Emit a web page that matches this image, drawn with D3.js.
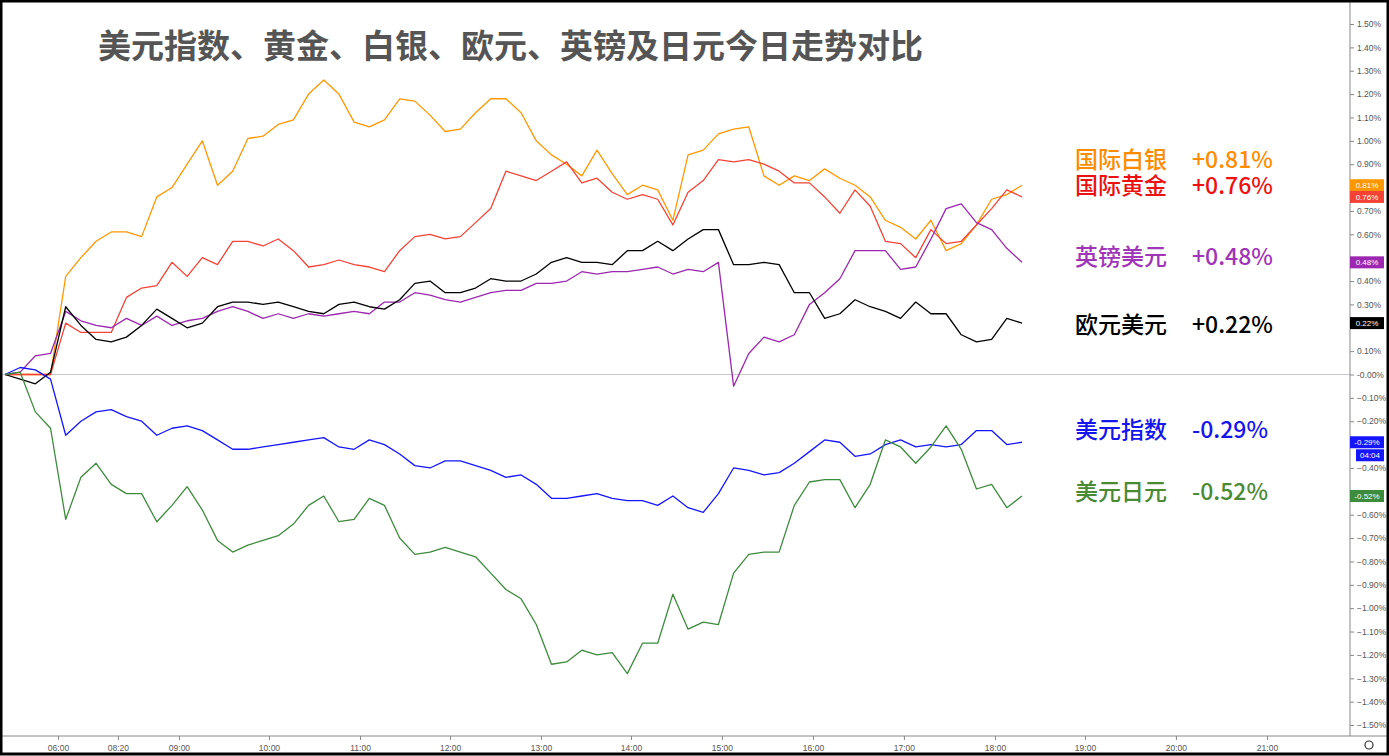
<!DOCTYPE html>
<html><head><meta charset="utf-8">
<script src="https://cdn.jsdelivr.net/npm/d3@7/dist/d3.min.js"></script>
<style>body{margin:0;background:#fff}svg{display:block}</style></head>
<body><svg id="c" width="1389" height="756"></svg>
<script>
const silver=[0,0,0,0,0.42,0.50,0.57,0.61,0.61,0.59,0.76,0.80,0.90,1.00,0.81,0.87,1.01,1.02,1.07,1.09,1.20,1.26,1.20,1.08,1.06,1.09,1.18,1.17,1.11,1.04,1.05,1.12,1.18,1.18,1.12,1.00,0.94,0.90,0.85,0.96,0.86,0.77,0.81,0.79,0.66,0.94,0.96,1.03,1.05,1.06,0.85,0.81,0.85,0.83,0.88,0.84,0.81,0.76,0.66,0.63,0.58,0.66,0.53,0.56,0.64,0.75,0.77,0.81];
const gold=[0,0,0,0,0.22,0.18,0.18,0.18,0.33,0.37,0.38,0.48,0.42,0.50,0.47,0.57,0.57,0.55,0.58,0.53,0.46,0.47,0.49,0.47,0.46,0.44,0.53,0.59,0.60,0.58,0.59,0.65,0.71,0.87,0.85,0.83,0.87,0.91,0.82,0.84,0.78,0.75,0.77,0.75,0.64,0.78,0.83,0.92,0.91,0.92,0.90,0.87,0.82,0.82,0.76,0.69,0.79,0.72,0.57,0.56,0.50,0.62,0.56,0.57,0.64,0.71,0.79,0.76];
const gbp=[0,0.01,0.08,0.09,0.27,0.23,0.21,0.20,0.24,0.21,0.25,0.21,0.23,0.24,0.27,0.29,0.27,0.24,0.26,0.24,0.26,0.25,0.26,0.27,0.26,0.31,0.31,0.35,0.34,0.32,0.31,0.33,0.35,0.36,0.36,0.39,0.39,0.40,0.44,0.43,0.44,0.44,0.45,0.46,0.43,0.45,0.44,0.48,-0.05,0.09,0.16,0.14,0.17,0.30,0.35,0.41,0.53,0.53,0.53,0.45,0.46,0.58,0.71,0.73,0.65,0.62,0.54,0.48];
const eur=[0,-0.02,-0.04,0.01,0.29,0.21,0.15,0.14,0.16,0.21,0.28,0.24,0.20,0.22,0.29,0.31,0.31,0.30,0.31,0.29,0.27,0.26,0.30,0.31,0.29,0.28,0.32,0.39,0.40,0.35,0.35,0.37,0.41,0.40,0.40,0.43,0.48,0.50,0.48,0.48,0.47,0.53,0.53,0.57,0.53,0.58,0.62,0.62,0.47,0.47,0.48,0.47,0.35,0.35,0.24,0.26,0.32,0.29,0.27,0.24,0.31,0.26,0.26,0.17,0.14,0.15,0.24,0.22];
const dxy=[0,0.03,0.02,-0.02,-0.26,-0.20,-0.16,-0.15,-0.18,-0.20,-0.26,-0.23,-0.22,-0.24,-0.28,-0.32,-0.32,-0.31,-0.30,-0.29,-0.28,-0.27,-0.31,-0.32,-0.28,-0.30,-0.34,-0.39,-0.40,-0.37,-0.37,-0.39,-0.41,-0.44,-0.43,-0.47,-0.53,-0.53,-0.52,-0.51,-0.53,-0.54,-0.54,-0.56,-0.52,-0.57,-0.59,-0.51,-0.40,-0.41,-0.43,-0.42,-0.38,-0.33,-0.28,-0.29,-0.35,-0.34,-0.30,-0.28,-0.31,-0.30,-0.31,-0.30,-0.24,-0.24,-0.30,-0.29];
const jpy=[0,0.01,-0.16,-0.23,-0.62,-0.44,-0.38,-0.47,-0.51,-0.51,-0.63,-0.56,-0.48,-0.58,-0.71,-0.76,-0.73,-0.71,-0.69,-0.64,-0.56,-0.52,-0.63,-0.62,-0.53,-0.56,-0.70,-0.77,-0.76,-0.74,-0.76,-0.78,-0.85,-0.92,-0.96,-1.07,-1.24,-1.23,-1.18,-1.20,-1.19,-1.28,-1.15,-1.15,-0.94,-1.09,-1.06,-1.07,-0.85,-0.77,-0.76,-0.76,-0.56,-0.46,-0.45,-0.45,-0.57,-0.47,-0.28,-0.31,-0.38,-0.31,-0.22,-0.32,-0.49,-0.47,-0.57,-0.52];
const timeLabels=["06:00","08:20","09:00","10:00","11:00","12:00","13:00","14:00","15:00","16:00","17:00","18:00","19:00","20:00","21:00"];
const timePos=[3.49,7.44,11.46,17.39,23.39,29.32,35.31,41.24,47.23,53.23,59.22,65.22,71.15,77.14,83.14];
const seriesNames=["国际白银","国际黄金","英镑美元","欧元美元","美元指数","美元日元"];
const seriesColors=["#ff9800","#f44336","#9c27b0","#000000","#1515ff","#3d8b3d"];
const labelColors=["#ff8c00","#ee1111","#a035b8","#000000","#1515ee","#4a8a35"];
const labelY=[162,188,259,327,432,494];
const seriesData=[silver,gold,gbp,eur,dxy,jpy];
const title="美元指数、黄金、白银、欧元、英镑及日元今日走势对比";

const svg=d3.select("#c");
const W=1389,H=756,plotR=1350,plotB=736;
const x=d3.scaleLinear().domain([0,67]).range([5,1022]);
const y=d3.scaleLinear().domain([-1.5,1.5]).range([725,24]);
const font="'Noto Sans CJK SC','Noto Sans',sans-serif";

svg.append("line").attr("x1",0).attr("x2",plotR).attr("y1",y(0)).attr("y2",y(0)).attr("stroke","#c8c8d0").attr("stroke-width",1);

const lastVals=seriesData.map(s=>s[s.length-1]);
const tagYs=lastVals.map(v=>y(v)).concat([y(dxy[dxy.length-1])+13]);
const ticks=d3.range(-15,16).map(d=>d/10);
const ya=d3.axisRight(y).tickValues(ticks).tickSize(4).tickFormat(d=>(Math.abs(d)<1e-9?"-0.00":d3.format(".2f")(d))+"%");
const gy=svg.append("g").attr("transform",`translate(${plotR},0)`).call(ya);
gy.select(".domain").attr("d",`M0,0V${plotB}`).attr("stroke","#888");
gy.selectAll("line").attr("stroke","#888");
gy.selectAll("text").attr("fill","#555").attr("font-size",8.5).attr("font-family","'Liberation Sans',sans-serif").attr("x",7)
  .style("display",d=>tagYs.some(t=>Math.abs(t-y(d))<11)?"none":null);

const xa=d3.axisBottom(x).tickValues(timePos).tickSize(4).tickFormat((d,i)=>timeLabels[i]);
const gx=svg.append("g").attr("transform",`translate(0,${plotB})`).call(xa);
gx.select(".domain").attr("d",`M0,0H${W}`).attr("stroke","#888");
gx.selectAll("line").attr("stroke","#888");
gx.selectAll("text").attr("fill","#555").attr("font-size",8.5).attr("font-family","'Liberation Sans',sans-serif").attr("dy","0.9em");

const line=d3.line().x((d,i)=>x(i)).y(d=>y(d));
seriesData.forEach((s,k)=>{
  svg.append("path").datum(s).attr("d",line).attr("fill","none").attr("stroke",seriesColors[k]).attr("stroke-width",1.3).attr("stroke-linejoin","round");
});

seriesData.forEach((s,k)=>{
  const v=lastVals[k];
  const t=svg.append("text").attr("x",1075).attr("y",labelY[k]).attr("fill",labelColors[k]).attr("font-size",23).attr("font-weight",500).attr("font-family",font).attr("dominant-baseline","middle");
  t.append("tspan").text(seriesNames[k]);
  t.append("tspan").attr("x",1192).text((v>=0?"+":"")+v.toFixed(2)+"%");
  const g=svg.append("g").attr("transform",`translate(${plotR},${y(v)})`);
  g.append("rect").attr("x",0).attr("y",-6).attr("width",34).attr("height",12).attr("fill",seriesColors[k]);
  g.append("text").attr("x",17).attr("y",0.5).attr("text-anchor","middle").attr("dominant-baseline","middle").attr("fill","#fff").attr("font-size",8).attr("font-family","'Liberation Sans',sans-serif").text(v.toFixed(2)+"%");
});
const gc=svg.append("g").attr("transform",`translate(${plotR},${tagYs[6]})`);
gc.append("rect").attr("x",6).attr("y",-6).attr("width",28).attr("height",12).attr("fill","#1515ff");
gc.append("text").attr("x",20).attr("y",0.5).attr("text-anchor","middle").attr("dominant-baseline","middle").attr("fill","#fff").attr("font-size",8).attr("font-family","'Liberation Sans',sans-serif").text("04:04");

svg.append("text").attr("x",98).attr("y",49).attr("dominant-baseline","middle").attr("fill","#555").attr("font-size",33).attr("font-weight","bold").attr("font-family",font).text(title);

svg.append("circle").attr("cx",1369).attr("cy",745).attr("r",4).attr("fill","none").attr("stroke","#333").attr("stroke-width",1.2);

svg.append("rect").attr("x",1).attr("y",1).attr("width",W-2).attr("height",H-3).attr("fill","none").attr("stroke","#000").attr("stroke-width",3);
</script></body></html>
